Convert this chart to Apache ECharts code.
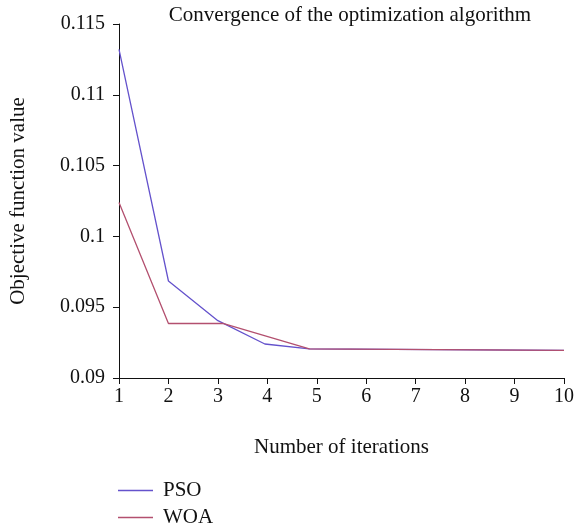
<!DOCTYPE html>
<html>
<head>
<meta charset="utf-8">
<script src="https://cdn.jsdelivr.net/npm/echarts@6/dist/echarts.min.js"></script>
<style>html,body{margin:0;padding:0;background:#fff}#c{width:577px;height:529px}</style>
</head>
<body>
<div id="c"></div>
<script>
const titleText = "Convergence of the optimization algorithm";
const xName = "Number of iterations";
const yName = "Objective function value";
const psoX = [1, 2, 3, 3.95, 4.85, 10];
const psoY = [0.1132, 0.09685, 0.09405, 0.0924, 0.09205, 0.09195];
const woaX = [1, 2, 3.1, 4.85, 10];
const woaY = [0.1024, 0.09385, 0.09385, 0.09205, 0.09195];
const seriesNames = ["PSO", "WOA"];
const colors = ["#6452cc", "#b3506f"];

const font = "'Liberation Serif', 'DejaVu Serif', serif";
const legendText = { fontFamily: font, fontSize: 21, color: '#111', padding: [0, 0, 0, 5] };
const chart = echarts.init(document.getElementById('c'));
chart.setOption({
  animation: false,
  textStyle: { fontFamily: font },
  title: { text: titleText, left: 345, top: 0, textAlign: 'center',
    textStyle: { fontFamily: font, fontSize: 21, fontWeight: 'normal', color: '#111' } },
  grid: { left: 118, right: 11, top: 24, bottom: 151, containLabel: false },
  legend: [
    { orient: 'vertical', left: 118, top: 480, itemWidth: 35, itemHeight: 1.4, padding: 0,
      icon: 'rect', textStyle: legendText, data: [seriesNames[0]] },
    { orient: 'vertical', left: 118, top: 507, itemWidth: 35, itemHeight: 1.4, padding: 0,
      icon: 'rect', textStyle: legendText, data: [seriesNames[1]] }
  ],
  xAxis: {
    type: 'value', min: 1, max: 10, interval: 1,
    name: xName, nameLocation: 'middle', nameGap: 59,
    nameTextStyle: { fontFamily: font, fontSize: 21, color: '#111' },
    axisLine: { lineStyle: { color: '#111', width: 1 } },
    axisTick: { inside: false, length: 6, lineStyle: { color: '#111' } },
    axisLabel: { fontFamily: font, fontSize: 20, color: '#111', margin: 9 },
    splitLine: { show: false }
  },
  yAxis: {
    type: 'value', min: 0.09, max: 0.115, interval: 0.005,
    name: yName, nameLocation: 'middle', nameGap: 90,
    nameTextStyle: { fontFamily: font, fontSize: 21, color: '#111' },
    axisLine: { show: true, lineStyle: { color: '#111', width: 1 } },
    axisTick: { show: true, inside: false, length: 6, lineStyle: { color: '#111' } },
    axisLabel: { fontFamily: font, fontSize: 20, color: '#111', margin: 14,
      formatter: v => String(parseFloat(v.toFixed(4))) },
    splitLine: { show: false }
  },
  series: [
    { name: seriesNames[0], type: 'line', data: psoX.map((x, i) => [x, psoY[i]]),
      showSymbol: false, symbol: 'none', lineStyle: { color: colors[0], width: 1.3 }, itemStyle: { color: colors[0] } },
    { name: seriesNames[1], type: 'line', data: woaX.map((x, i) => [x, woaY[i]]),
      showSymbol: false, symbol: 'none', lineStyle: { color: colors[1], width: 1.3 }, itemStyle: { color: colors[1] } }
  ]
});
</script>
</body>
</html>
